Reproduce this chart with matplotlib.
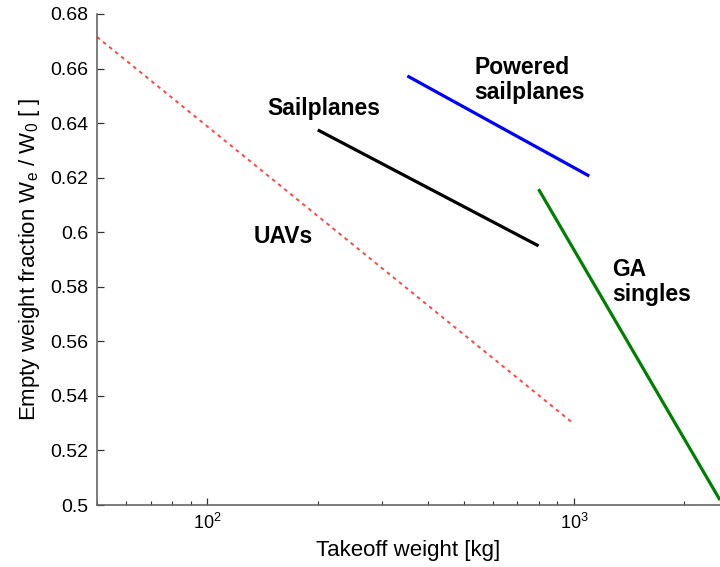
import matplotlib
matplotlib.use("Agg")
import matplotlib.pyplot as plt
from matplotlib.ticker import LogLocator, FixedLocator

plt.rcParams['font.family'] = ['Liberation Sans', 'DejaVu Sans']
plt.rcParams['mathtext.fontset'] = 'custom'
plt.rcParams['mathtext.rm'] = 'Liberation Sans'
plt.rcParams['mathtext.it'] = 'Liberation Sans:italic'
plt.rcParams['mathtext.default'] = 'regular'

# Empty-weight-fraction trend lines (takeoff weight in kg)
uav_w = [50, 1000]
uav_f = [0.6716, 0.5297]
sail_w = [200, 800]
sail_f = [0.6375, 0.595]
powered_w = [351, 1100]
powered_f = [0.6573, 0.6206]
ga_w = [800, 2500]
ga_f = [0.6158, 0.5018]

y_ticks = [0.5, 0.52, 0.54, 0.56, 0.58, 0.6, 0.62, 0.64, 0.66, 0.68]
y_tick_labels = ['0.5', '0.52', '0.54', '0.56', '0.58', '0.6', '0.62', '0.64', '0.66', '0.68']

fig = plt.figure(figsize=(7.2, 5.67), dpi=100)
ax = fig.add_axes([97/720, 62/567, 623/720, 491/567])

ax.plot(uav_w, uav_f, color='#ff4545', lw=1.4, linestyle=(0, (1.9, 2.1)), clip_on=False)
ax.plot(sail_w, sail_f, color='black', lw=2.3, solid_capstyle='butt')
ax.plot(powered_w, powered_f, color='#0000ff', lw=2.3, solid_capstyle='butt')
ax.plot(ga_w, ga_f, color='#008000', lw=2.3, solid_capstyle='butt')

ax.set_xscale('log')
ax.set_xlim(50, 2500)
ax.set_ylim(0.5, 0.68)
ax.yaxis.set_major_locator(FixedLocator(y_ticks))
ax.set_yticklabels(y_tick_labels)
ax.xaxis.set_major_locator(LogLocator(base=10))
ax.xaxis.set_minor_locator(LogLocator(base=10, subs=range(2, 10)))

for s in ('top', 'right'):
    ax.spines[s].set_visible(False)
for s in ('left', 'bottom'):
    ax.spines[s].set_color('#666666')
    ax.spines[s].set_linewidth(1.2)

ax.tick_params(which='major', direction='in', length=5, width=0.9, color='#333333', pad=6)
ax.tick_params(axis='y', which='major', labelsize=14)
ax.tick_params(axis='x', which='major', labelsize=13)
ax.tick_params(which='minor', direction='in', length=3, width=0.8, color='#333333')

ax.set_xlabel('Takeoff weight [kg]', fontsize=16, labelpad=5)
ax.set_ylabel('Empty weight fraction W$_e$ / W$_0$ [ ]', fontsize=16, labelpad=6)

lab = dict(fontsize=16.5, fontweight='bold', va='center')
ax.text(208, 0.6452, 'Sailplanes', ha='center', **lab)
ax.text(161, 0.5986, 'UAVs', ha='center', **lab)
ax.text(534, 0.6558, 'Powered\nsailplanes', ha='left', multialignment='left',
        linespacing=1.15, **lab)
ax.text(1269, 0.5818, 'GA\nsingles', ha='left', multialignment='left',
        linespacing=1.15, **lab)

fig.savefig('out.png', dpi=100)
